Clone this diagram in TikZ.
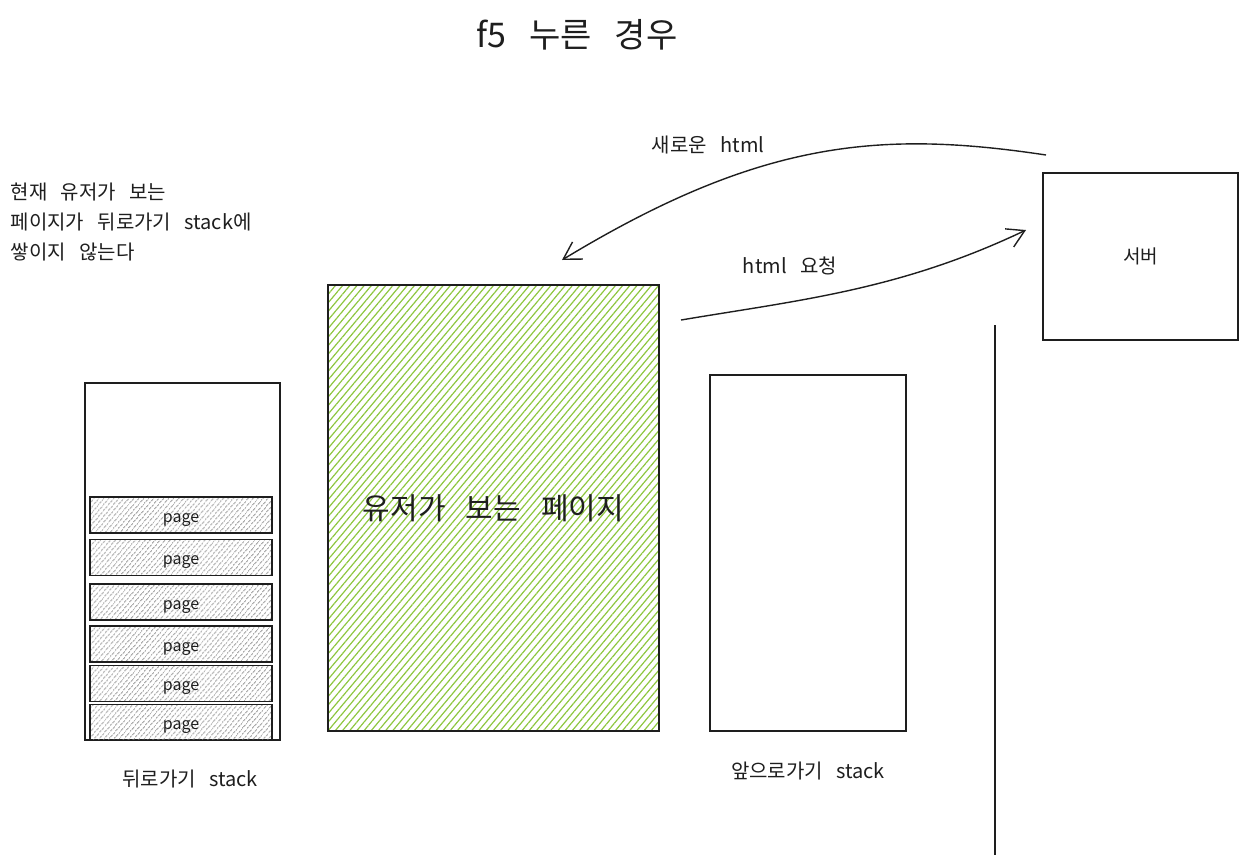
\documentclass[tikz,border=0pt]{standalone}
\usepackage{fontspec}
\setmainfont[WordSpace=3]{Noto Sans CJK KR}
\usepackage{xcolor}
\usetikzlibrary{positioning, arrows.meta, patterns.meta}
\definecolor{inkK}{HTML}{1E1E1E}
\definecolor{userG}{HTML}{8DC63F}
\definecolor{pageK}{HTML}{7A7A7A}

\begin{document}
\begin{tikzpicture}[x=1pt,y=-1pt,line width=1.3pt,inkK,
  font=\fontsize{20}{30}\selectfont,
  box/.style={draw=inkK,line width=1.3pt,inner sep=0pt},
  pagebox/.style={box,line width=1.2pt,minimum width=182pt,minimum height=36pt,
    pattern={Lines[angle=50,distance=4pt,line width=1pt]},pattern color=pageK,
    text height=14pt,text depth=0pt,font=\fontsize{16}{18}\selectfont},
  sketcharrow/.style={line width=1.4pt,-{Straight Barb[length=17pt,width=20pt,line width=1.4pt]}}]
  \useasboundingbox (0,0) rectangle (1247,865);
  % title
  \node[font=\fontsize{34}{40}\selectfont] (title) at (577,35) {f5 누른 경우};
  % note top left
  \node[anchor=west,align=left,inner sep=0pt] (note) at (10,222)
     {현재 유저가 보는\\페이지가 뒤로가기 stack에\\쌓이지 않는다};
  % back stack with pages
  \node[box,minimum width=195pt,minimum height=357pt] (backStack) at (182.5,561.5) {};
  \foreach \i/\y in {1/515,2/557.5,3/602,4/644,5/683.5,6/722.5}{
     \node[pagebox] (page\i) at (181,\y) {page};
  }
  \node (backLab) at (190,779) {뒤로가기 stack};
  % page the user sees
  \node[box,minimum width=331pt,minimum height=446pt,
     pattern={Lines[angle=50,distance=5.5pt,line width=1.2pt]},pattern color=userG,
     font=\fontsize{30}{34}\selectfont] (userPage) at (493.5,508) {유저가 보는 페이지};
  % forward stack
  \node[box,minimum width=196pt,minimum height=356pt] (fwdStack) at (808,553) {};
  \node (fwdLab) at (808,771) {앞으로가기 stack};
  % server
  \node[box,minimum width=195pt,minimum height=167pt,font=\fontsize{19}{22}\selectfont]
     (server) at (1140.5,256.5) {서버};
  % divider
  \coordinate (divTop) at (995,325);
  \coordinate (divBot) at (995,855);
  \draw (divTop) -- (divBot);
  % requests
  \coordinate (newFrom) at (1046,155);
  \coordinate (newTo) at (562,260);
  \coordinate (reqFrom) at (681,320);
  \coordinate (reqTo) at (1026,230);
  \draw[sketcharrow] (newFrom) .. controls (880,130) and (760,140) .. (newTo);
  \draw[sketcharrow] (reqFrom) .. controls (800,300) and (900,290) .. (reqTo);
  \node (newLab) at (708,145) {새로운 html};
  \node (reqLab) at (790,266) {html 요청};
\end{tikzpicture}
\end{document}
